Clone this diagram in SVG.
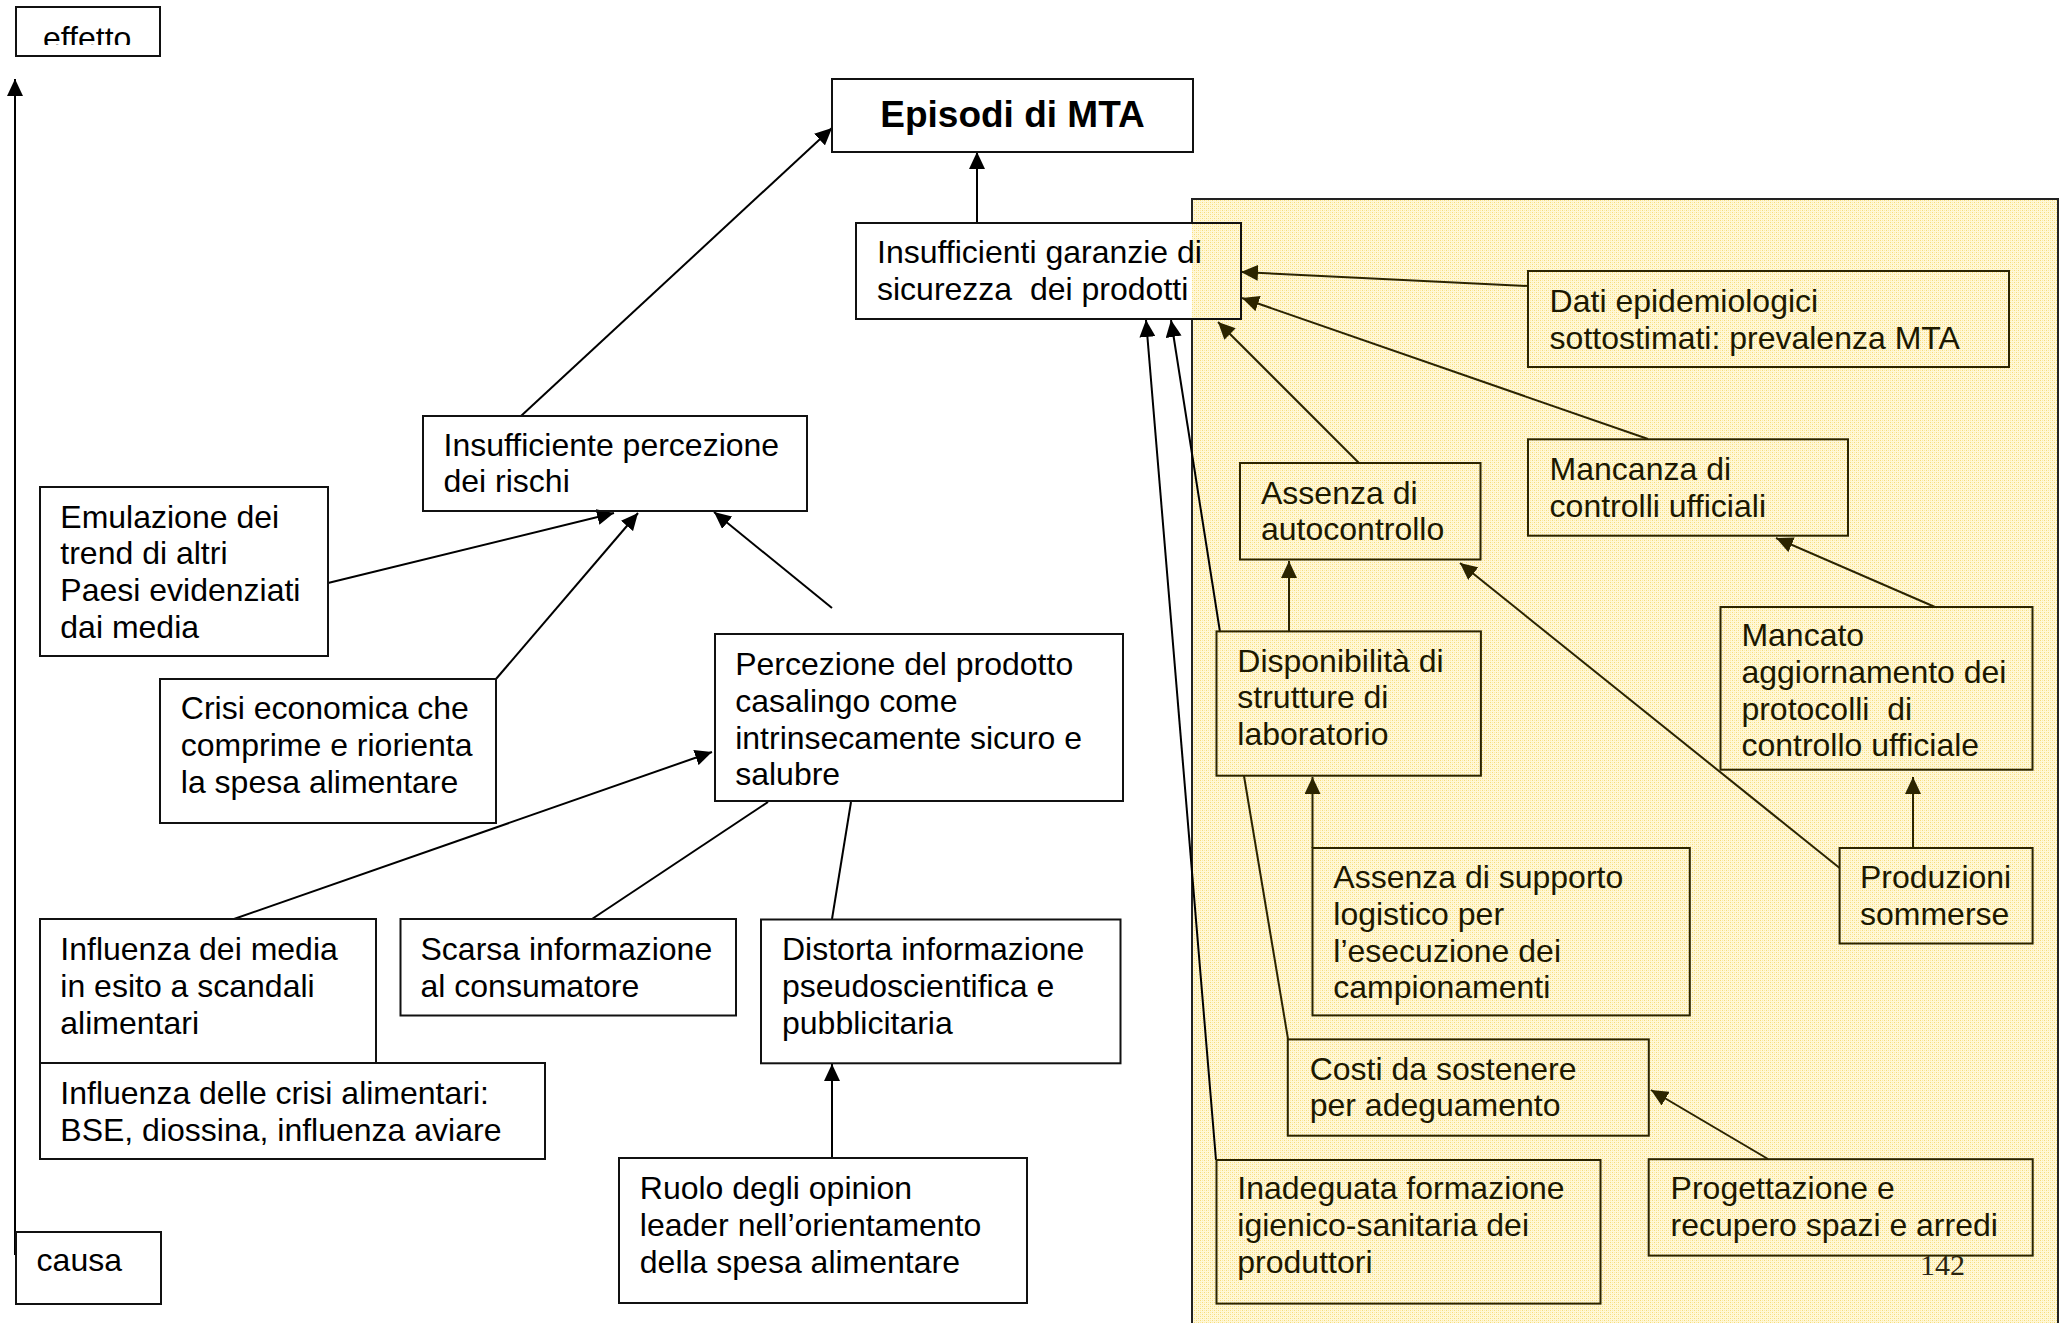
<svg xmlns="http://www.w3.org/2000/svg" width="2060" height="1323" viewBox="0 0 2060 1323">
<defs>
<pattern id="stip" width="4" height="4" patternUnits="userSpaceOnUse">
<rect width="4" height="4" fill="#FFF8D8"/>
<rect x="0" y="0" width="1" height="1" fill="#F7DC7A"/>
<rect x="2" y="2" width="1" height="1" fill="#F7DC7A"/>
<rect x="2" y="0" width="1" height="1" fill="#FCEBAA"/>
<rect x="0" y="2" width="1" height="1" fill="#FCEBAA"/>
</pattern>
<marker id="ah" markerUnits="userSpaceOnUse" markerWidth="18" markerHeight="16" viewBox="0 0 18 16" refX="17" refY="8" orient="auto">
<path d="M0,0 L17,8 L0,16 Z" fill="#000"/>
</marker>
<marker id="ahy" markerUnits="userSpaceOnUse" markerWidth="18" markerHeight="16" viewBox="0 0 18 16" refX="17" refY="8" orient="auto">
<path d="M0,0 L17,8 L0,16 Z" fill="#2B2400"/>
</marker>
<clipPath id="effclip"><rect x="16" y="7" width="144" height="38"/></clipPath>
</defs>
<style>
.box{fill:none;stroke:#111;stroke-width:2}
.boxy{fill:none;stroke:#2B2400;stroke-width:2}
.t{font-family:"Liberation Sans",Arial,sans-serif;font-size:32px;fill:#000;white-space:pre}
.ty{font-family:"Liberation Sans",Arial,sans-serif;font-size:32px;fill:#1C1800;white-space:pre}
.c{stroke:#000;stroke-width:2;fill:none}
.cy{stroke:#2B2400;stroke-width:2;fill:none}
.a{marker-end:url(#ah)}
.ay{marker-end:url(#ahy)}
</style>
<rect width="2060" height="1323" fill="#fff"/>
<g id="panel">
<rect x="1192" y="199" width="866" height="1124" fill="url(#stip)"/>
<path d="M1192,1323 V320 M1192,222 V199 H2058 V1323" fill="none" stroke="#222" stroke-width="2"/>
</g>
<text x="1920" y="1275" font-family="'Liberation Serif','Times New Roman',serif" font-size="30" fill="#2A2410">142</text>
<g id="connectors">
<line class="c a" x1="15" y1="1255" x2="15" y2="79"/>
<line class="c a" x1="977" y1="223" x2="977" y2="152"/>
<line class="c a" x1="521" y1="416" x2="832" y2="128"/>
<line class="c a" x1="328" y1="583" x2="614" y2="513"/>
<line class="c a" x1="496" y1="679" x2="638" y2="513"/>
<line class="c a" x1="832" y1="608" x2="714" y2="512"/>
<line class="c a" x1="234" y1="919" x2="712" y2="752"/>
<line class="c" x1="592" y1="919" x2="768" y2="802"/>
<line class="c" x1="832" y1="919" x2="851" y2="802"/>
<line class="c a" x1="832" y1="1158" x2="832" y2="1064"/>
<line class="c a" x1="1216" y1="1160" x2="1146" y2="320"/>
<line class="c a" x1="1220" y1="632" x2="1171" y2="320"/>
<line class="cy ay" x1="1528" y1="286" x2="1241" y2="272"/>
<line class="cy ay" x1="1648" y1="439" x2="1242" y2="298"/>
<line class="cy ay" x1="1359" y1="463" x2="1218" y2="322"/>
<line class="cy ay" x1="1289" y1="631" x2="1289" y2="561"/>
<line class="cy" x1="1244" y1="776" x2="1288" y2="1039"/>
<line class="cy ay" x1="1312.5" y1="848" x2="1312.5" y2="777"/>
<line class="cy ay" x1="1913" y1="848" x2="1913" y2="777"/>
<line class="cy ay" x1="1839.6" y1="868" x2="1460" y2="563"/>
<line class="cy ay" x1="1935" y1="607" x2="1776" y2="538"/>
<line class="cy ay" x1="1768" y1="1159" x2="1651" y2="1090"/>
</g>
<g id="n-effetto">
<rect class="box" x="16" y="7" width="144" height="49"/>
<text class="t" x="43" y="49" clip-path="url(#effclip)">effetto</text>
</g>
<g id="n-causa">
<rect class="box" x="16" y="1232" width="145" height="72"/>
<text class="t" x="36.6" y="1270.7">causa</text>
</g>
<g id="n-episodi">
<rect class="box" x="832" y="79" width="361" height="73"/>
<text x="1012.5" y="127" text-anchor="middle" font-family="'Liberation Sans',Arial,sans-serif" font-size="37" font-weight="bold">Episodi di MTA</text>
</g>
<g id="n-garanzie">
<rect class="box" x="856" y="223" width="385" height="96"/>
<text class="t" x="877" y="263"><tspan x="877">Insufficienti garanzie di</tspan><tspan x="877" dy="36.8">sicurezza  dei prodotti</tspan></text>
</g>
<g id="n-percezione-rischi">
<rect class="box" x="423" y="416" width="384" height="95"/>
<text class="t" x="443.5" y="455.5"><tspan x="443.5">Insufficiente percezione</tspan><tspan x="443.5" dy="36.8">dei rischi</tspan></text>
</g>
<g id="n-emulazione">
<rect class="box" x="40" y="487" width="288" height="169"/>
<text class="t" x="60.3" y="527.5"><tspan x="60.3">Emulazione dei</tspan><tspan x="60.3" dy="36.8">trend di altri</tspan><tspan x="60.3" dy="36.8">Paesi evidenziati</tspan><tspan x="60.3" dy="36.8">dai media</tspan></text>
</g>
<g id="n-crisi">
<rect class="box" x="160" y="679" width="336" height="144"/>
<text class="t" x="180.8" y="719.3"><tspan x="180.8">Crisi economica che</tspan><tspan x="180.8" dy="36.8">comprime e riorienta</tspan><tspan x="180.8" dy="36.8">la spesa alimentare</tspan></text>
</g>
<g id="n-percezione-prodotto">
<rect class="box" x="715" y="634" width="408" height="167"/>
<text class="t" x="735.2" y="675"><tspan x="735.2">Percezione del prodotto</tspan><tspan x="735.2" dy="36.8">casalingo come</tspan><tspan x="735.2" dy="36.8">intrinsecamente sicuro e</tspan><tspan x="735.2" dy="36.8">salubre</tspan></text>
</g>
<g id="n-media">
<rect class="box" x="40" y="919" width="336" height="144"/>
<text class="t" x="60.3" y="960"><tspan x="60.3">Influenza dei media</tspan><tspan x="60.3" dy="36.8">in esito a scandali</tspan><tspan x="60.3" dy="36.8">alimentari</tspan></text>
</g>
<g id="n-crisi-alimentari">
<rect class="box" x="40" y="1063" width="505" height="96"/>
<text class="t" x="60.3" y="1104"><tspan x="60.3">Influenza delle crisi alimentari:</tspan><tspan x="60.3" dy="36.8">BSE, diossina, influenza aviare</tspan></text>
</g>
<g id="n-scarsa">
<rect class="box" x="400.5" y="919" width="335.5" height="96.5"/>
<text class="t" x="420.5" y="960"><tspan x="420.5">Scarsa informazione</tspan><tspan x="420.5" dy="36.8">al consumatore</tspan></text>
</g>
<g id="n-distorta">
<rect class="box" x="761" y="919.5" width="359.5" height="143.8"/>
<text class="t" x="782" y="960"><tspan x="782">Distorta informazione</tspan><tspan x="782" dy="36.8">pseudoscientifica e</tspan><tspan x="782" dy="36.8">pubblicitaria</tspan></text>
</g>
<g id="n-ruolo">
<rect class="box" x="619" y="1158" width="408" height="145"/>
<text class="t" x="639.8" y="1199.4"><tspan x="639.8">Ruolo degli opinion</tspan><tspan x="639.8" dy="36.8">leader nell’orientamento</tspan><tspan x="639.8" dy="36.8">della spesa alimentare</tspan></text>
</g>
<g id="n-dati">
<rect class="boxy" x="1528" y="271" width="481" height="96"/>
<text class="ty" x="1549.6" y="311.7"><tspan x="1549.6">Dati epidemiologici</tspan><tspan x="1549.6" dy="36.8">sottostimati: prevalenza MTA</tspan></text>
</g>
<g id="n-mancanza">
<rect class="boxy" x="1528" y="439.3" width="320" height="96.4"/>
<text class="ty" x="1549.6" y="480"><tspan x="1549.6">Mancanza di</tspan><tspan x="1549.6" dy="36.8">controlli ufficiali</tspan></text>
</g>
<g id="n-autocontrollo">
<rect class="boxy" x="1240" y="463" width="240.5" height="96.5"/>
<text class="ty" x="1261" y="503.5"><tspan x="1261">Assenza di</tspan><tspan x="1261" dy="36.8">autocontrollo</tspan></text>
</g>
<g id="n-disponibilita">
<rect class="boxy" x="1216.5" y="631.4" width="264.4" height="144.3"/>
<text class="ty" x="1237.3" y="671.5"><tspan x="1237.3">Disponibilità di</tspan><tspan x="1237.3" dy="36.8">strutture di</tspan><tspan x="1237.3" dy="36.8">laboratorio</tspan></text>
</g>
<g id="n-mancato">
<rect class="boxy" x="1720.5" y="607" width="312" height="162.7"/>
<text class="ty" x="1741.4" y="646"><tspan x="1741.4">Mancato</tspan><tspan x="1741.4" dy="36.8">aggiornamento dei</tspan><tspan x="1741.4" dy="36.8">protocolli  di</tspan><tspan x="1741.4" dy="36.8">controllo ufficiale</tspan></text>
</g>
<g id="n-supporto">
<rect class="boxy" x="1312.5" y="848" width="377.3" height="167.4"/>
<text class="ty" x="1333.3" y="888"><tspan x="1333.3">Assenza di supporto</tspan><tspan x="1333.3" dy="36.8">logistico per</tspan><tspan x="1333.3" dy="36.8">l’esecuzione dei</tspan><tspan x="1333.3" dy="36.8">campionamenti</tspan></text>
</g>
<g id="n-produzioni">
<rect class="boxy" x="1839.6" y="848" width="193" height="95.5"/>
<text class="ty" x="1860" y="888"><tspan x="1860">Produzioni</tspan><tspan x="1860" dy="36.8">sommerse</tspan></text>
</g>
<g id="n-costi">
<rect class="boxy" x="1287.8" y="1039.4" width="361" height="96.3"/>
<text class="ty" x="1309.7" y="1079.5"><tspan x="1309.7">Costi da sostenere</tspan><tspan x="1309.7" dy="36.8">per adeguamento</tspan></text>
</g>
<g id="n-inadeguata">
<rect class="boxy" x="1216.5" y="1160" width="384" height="143.6"/>
<text class="ty" x="1237.3" y="1199.4"><tspan x="1237.3">Inadeguata formazione</tspan><tspan x="1237.3" dy="36.8">igienico-sanitaria dei</tspan><tspan x="1237.3" dy="36.8">produttori</tspan></text>
</g>
<g id="n-progettazione">
<rect class="boxy" x="1648.7" y="1159.2" width="384" height="96.4"/>
<text class="ty" x="1670.6" y="1199.4"><tspan x="1670.6">Progettazione e</tspan><tspan x="1670.6" dy="36.8">recupero spazi e arredi</tspan></text>
</g>
</svg>
